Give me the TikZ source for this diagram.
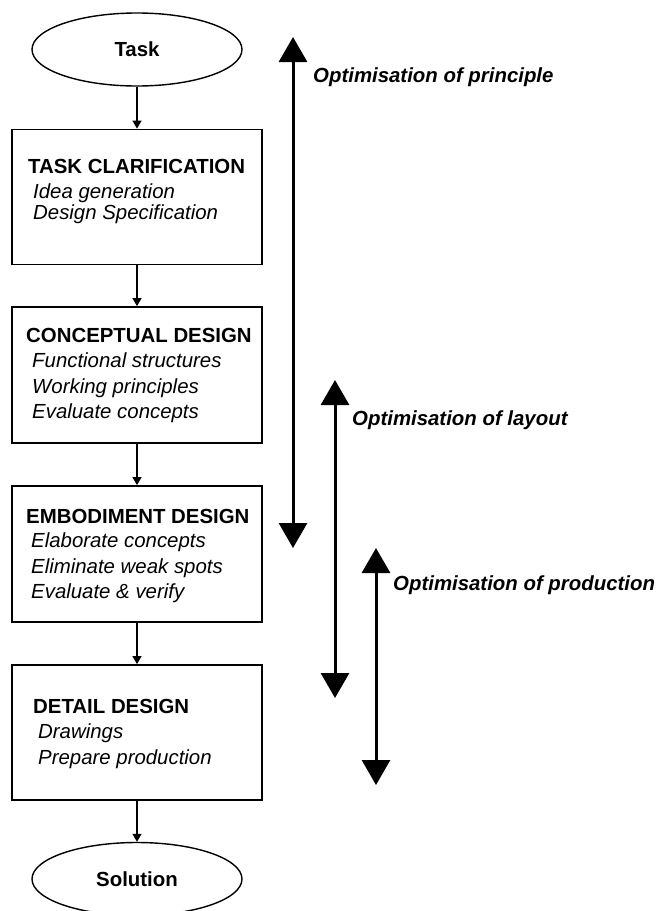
\documentclass[tikz,border=0pt]{standalone}
\usepackage{fontspec}
\setmainfont{Liberation Sans}
\usetikzlibrary{shapes.geometric,arrows.meta}
\begin{document}
\begin{tikzpicture}[x=1pt,y=-1pt,
  font=\fontsize{20.4}{25}\selectfont,
  term/.style={ellipse,draw,line width=1.4pt,minimum width=210pt,minimum height=73pt,inner sep=0pt,font=\fontsize{20.4}{25}\selectfont\bfseries},
  stagebox/.style={draw,line width=1.8pt,minimum width=250pt,inner sep=0pt},
  title/.style={anchor=base west,inner sep=0pt,font=\fontsize{20.4}{25}\selectfont\bfseries},
  item/.style={anchor=base west,inner sep=0pt,font=\fontsize{20.4}{25}\selectfont\itshape},
  optlabel/.style={anchor=base west,inner sep=0pt,font=\fontsize{20.4}{25}\selectfont\bfseries\itshape},
  flow/.style={line width=1.3pt,-{Triangle[width=9pt,length=8pt]}},
  bigarrow/.style={line width=3pt,{Triangle[width=28pt,length=25pt]}-{Triangle[width=28pt,length=25pt]}}
]
\fill[white] (0,0) rectangle (657,911);
\useasboundingbox (0,0) rectangle (657,911);

% terminals
\node[term] (task) at (137,49.5) {Task};
\node[term] (solution) at (137,879) {Solution};

% boxes
\node[stagebox,minimum height=135pt] (b1) at (137,197) {};
\node[stagebox,minimum height=136pt] (b2) at (137,375) {};
\node[stagebox,minimum height=136pt] (b3) at (137,554) {};
\node[stagebox,minimum height=135pt] (b4) at (137,732.5) {};

% box texts
\node[title] (t1) at (28,173) {TASK CLARIFICATION};
\node[item] (t1a) at (33,198) {Idea generation};
\node[item] (t1b) at (33,219) {Design Specification};

\node[title] (t2) at (26,342) {CONCEPTUAL DESIGN};
\node[item] (t2a) at (32,367) {Functional structures};
\node[item] (t2b) at (32,393) {Working principles};
\node[item] (t2c) at (32,418) {Evaluate concepts};

\node[title] (t3) at (26,523) {EMBODIMENT DESIGN};
\node[item] (t3a) at (31,547) {Elaborate concepts};
\node[item] (t3b) at (31,573) {Eliminate weak spots};
\node[item] (t3c) at (31,598) {Evaluate \& verify};

\node[title] (t4) at (33,713) {DETAIL DESIGN};
\node[item] (t4a) at (38,738) {Drawings};
\node[item] (t4b) at (38,764) {Prepare production};

% flow arrows
\draw[flow] (task.south) -- (b1.north);
\draw[flow] (b1.south) -- (b2.north);
\draw[flow] (b2.south) -- (b3.north);
\draw[flow] (b3.south) -- (b4.north);
\draw[flow] (b4.south) -- (solution.north);

% optimisation arrows
\coordinate (p1) at (293,37);
\coordinate (p2) at (293,548);
\coordinate (l1) at (335,380);
\coordinate (l2) at (335,698);
\coordinate (r1) at (376,548);
\coordinate (r2) at (376,785);
\draw[bigarrow] (p1) -- (p2);
\draw[bigarrow] (l1) -- (l2);
\draw[bigarrow] (r1) -- (r2);

\node[optlabel] (lp) at (313,82) {Optimisation of principle};
\node[optlabel] (ll) at (352,425) {Optimisation of layout};
\node[optlabel] (lr) at (393,590) {Optimisation of production};
\end{tikzpicture}
\end{document}
